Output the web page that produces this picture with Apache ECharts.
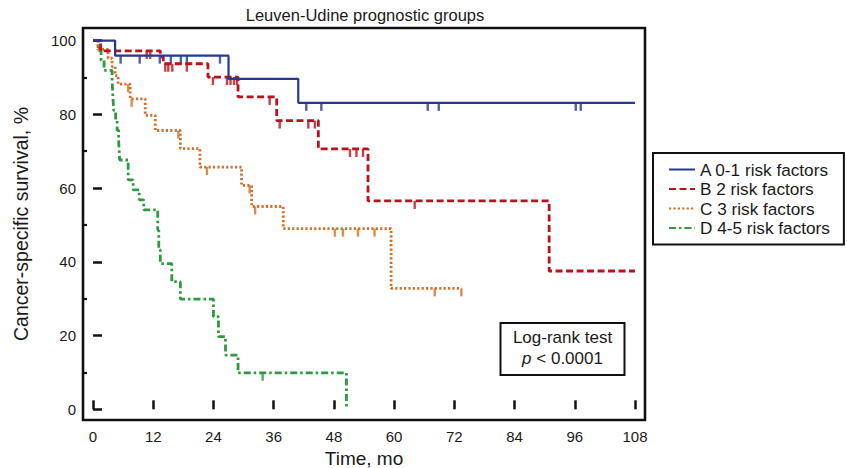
<!DOCTYPE html>
<html><head><meta charset="utf-8">
<script src="https://cdn.jsdelivr.net/npm/echarts@6/dist/echarts.min.js"></script>
<style>html,body{margin:0;padding:0;background:#fff}#c{width:847px;height:468px}</style>
</head><body><div id="c"></div>
<script>
// ---- data ----
const groupNames = ['A 0-1 risk factors', 'B 2 risk factors', 'C 3 risk factors', 'D 4-5 risk factors'];

const A_time = [0, 4.4, 27.0, 40.9, 108];
const A_surv = [100, 95.9, 89.6, 83.1, 83.1];
const A_censor = [5.5, 9.3, 13.3, 15.5, 17.5, 18.7, 25.3, 42.5, 45.5, 66.7, 68.9, 96.2, 97.2];

const B_time = [0, 1.5, 13.4, 14.0, 22.9, 28.9, 36.6, 44.9, 54.8, 90.9, 108];
const B_surv = [100, 97.2, 95.6, 93.7, 90.1, 84.7, 78.3, 70.6, 56.5, 37.5, 37.5];
const B_censor = [10.7, 11.4, 14.4, 15.0, 15.8, 18.7, 23.9, 26.7, 27.4, 28.1, 28.7, 35.2, 37.2, 42.9, 44.2, 51.2, 52.5, 53.8, 64.1];

const C_time = [0, 1.0, 3.0, 3.8, 4.4, 5.0, 7.4, 10.4, 12.4, 17.4, 21.3, 29.6, 31.6, 37.9, 59.4, 73.4];
const C_surv = [100, 97.6, 95.2, 92.9, 90.5, 88.2, 84.2, 79.7, 75.6, 70.7, 65.7, 60.7, 55.0, 49.0, 32.8, 32.8];
const C_censor = [7.0, 7.7, 17.0, 22.7, 31.2, 32.3, 48.2, 49.8, 52.8, 56.1, 68.1, 73.4];

const D_time = [0, 1.0, 1.6, 2.2, 3.8, 3.9, 4.0, 4.1, 4.5, 4.8, 5.1, 5.2, 5.3, 7.0, 8.0, 9.2, 10.1, 12.9, 13.1, 13.4, 15.7, 17.4, 24.0, 25.0, 26.4, 28.9, 50.5];
const D_surv = [100, 97.3, 94.6, 91.9, 89.2, 86.5, 83.8, 81.1, 78.4, 75.7, 73.0, 70.3, 67.6, 62.2, 59.5, 56.8, 54.1, 48.6, 43.2, 39.5, 34.6, 29.9, 25.1, 19.7, 14.7, 9.9, 0];
const D_censor = [33.8];

const xTickLabels = [0, 12, 24, 36, 48, 60, 72, 84, 96, 108];
const yTickLabels = [0, 20, 40, 60, 80, 100];
const yMinorTicks = [10, 30, 50, 70, 90];

// ---- styles ----
const colors = ['#27388f', '#b8121c', '#d26f2a', '#2e9a3e'];
const dashes = ['solid', [7, 3.5], [2.2, 2.2], [7, 3, 2.5, 3]];
const widths = [2.2, 2.8, 2.8, 2.8];
const FONT = '"Liberation Sans", Arial, sans-serif';

const times = [A_time, B_time, C_time, D_time];
const survs = [A_surv, B_surv, C_surv, D_surv];
const censors = [A_censor, B_censor, C_censor, D_censor];

function survAt(t, s, x) {
  let v = s[0];
  for (let i = 0; i < t.length; i++) { if (t[i] <= x) v = s[i]; }
  return v;
}

const series = [];
for (let g = 0; g < 4; g++) {
  series.push({
    name: groupNames[g], type: 'line', step: 'end', symbol: 'none',
    data: times[g].map((t, i) => [t, survs[g][i]]),
    lineStyle: { color: colors[g], width: widths[g], type: dashes[g] },
    itemStyle: { color: colors[g] },
    z: 3 + (3 - g), silent: true, animation: false
  });
}
for (let g = 0; g < 4; g++) {
  series.push({
    name: groupNames[g] + ' censored', type: 'scatter',
    data: censors[g].map(t => [t, survAt(times[g], survs[g], t)]),
    symbol: 'rect', symbolSize: [2.4, 8], symbolOffset: [0, 4],
    itemStyle: { color: colors[g] }, silent: true, animation: false, z: 3
  });
}

const chart = echarts.init(document.getElementById('c'), null, { renderer: 'svg' });
chart.setOption({
  animation: false,
  backgroundColor: '#fff',
  title: [
    { text: 'Leuven-Udine prognostic groups', left: 360, top: 1, textAlign: 'center',
      textStyle: { fontFamily: FONT, fontSize: 16.5, fontWeight: 'normal', color: '#1a1a1a' } },
    { text: 'Log-rank test\n{i|p} < 0.0001', left: 550, top: 323, textAlign: 'center',
      borderColor: '#111', borderWidth: 2, padding: [4, 12.5, 6, 12.5],
      textStyle: { fontFamily: FONT, fontSize: 17, fontWeight: 'normal', color: '#1a1a1a', lineHeight: 21,
        rich: { i: { fontStyle: 'italic', fontFamily: FONT, fontSize: 17, color: '#1a1a1a', lineHeight: 21 } } } }
  ],
  legend: {
    data: groupNames, orient: 'vertical', left: 653, top: 153,
    padding: [8, 14, 8, 15], itemGap: 2.5, itemWidth: 26, itemHeight: 12,
    borderColor: '#111', borderWidth: 2,
    itemStyle: { opacity: 0 },
    lineStyle: { width: 2 },
    textStyle: { fontFamily: FONT, fontSize: 17.2, color: '#1a1a1a', lineHeight: 17 }
  },
  grid: { left: 83, top: 28, width: 562, height: 392, show: true, borderColor: '#111', borderWidth: 2.6,
    backgroundColor: '#fff', containLabel: false, outerBoundsMode: 'none' },
  xAxis: {
    type: 'value', min: -2, max: 110,
    name: 'Time, mo', nameLocation: 'middle', nameGap: 23,
    nameTextStyle: { fontFamily: FONT, fontSize: 19, color: '#1a1a1a' },
    axisLine: { show: false }, splitLine: { show: false },
    axisTick: { show: true, inside: true, length: 9, customValues: xTickLabels, lineStyle: { color: '#111', width: 2.5 } },
    axisLabel: { customValues: xTickLabels, margin: 9, fontFamily: FONT, fontSize: 15, color: '#1a1a1a' }
  },
  yAxis: [
    {
      type: 'value', min: -2.9, max: 103.4,
      name: 'Cancer-specific survival, %', nameLocation: 'middle', nameGap: 52,
      nameTextStyle: { fontFamily: FONT, fontSize: 19.5, color: '#1a1a1a' },
      axisLine: { show: false }, splitLine: { show: false },
      axisTick: { show: true, inside: true, length: 9, customValues: yTickLabels, lineStyle: { color: '#111', width: 2.5 } },
      axisLabel: { customValues: yTickLabels, margin: 7, fontFamily: FONT, fontSize: 15, color: '#1a1a1a' }
    },
    {
      type: 'value', min: -2.9, max: 103.4, position: 'left',
      axisLine: { show: false }, splitLine: { show: false },
      axisTick: { show: true, inside: true, length: 4, customValues: yMinorTicks, lineStyle: { color: '#111', width: 2.2 } },
      axisLabel: { show: false }
    }
  ],
  series: series
});
</script>
</body></html>
